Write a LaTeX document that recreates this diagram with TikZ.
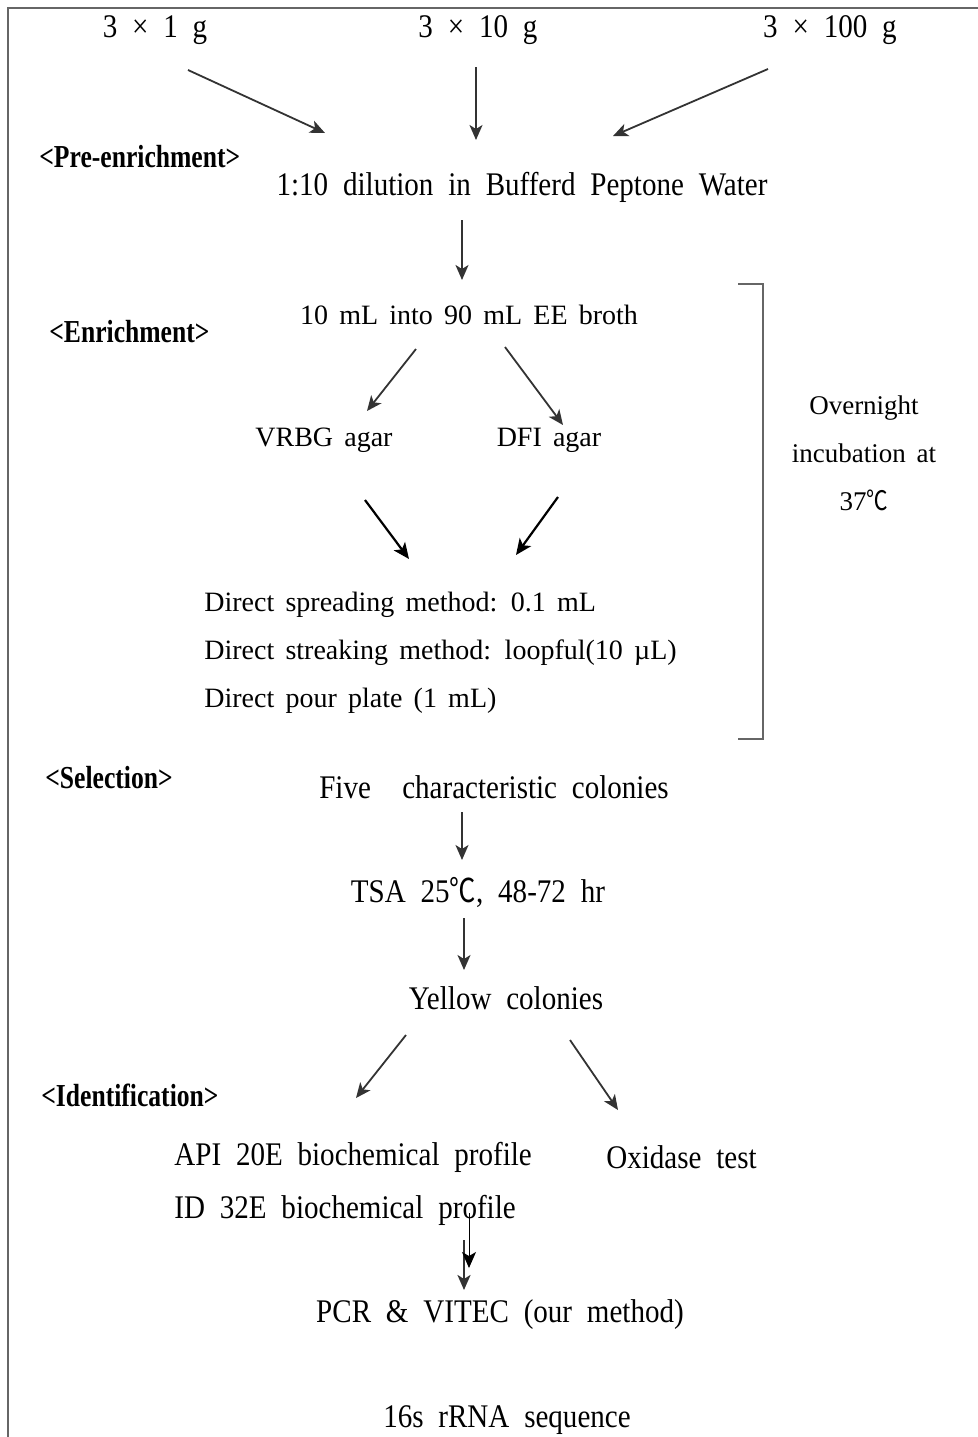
\documentclass[tikz,border=0pt]{standalone}
\usepackage{fontspec}
\setmainfont[FakeStretch=0.88]{Liberation Serif}
\newfontfamily\plainserif{Liberation Serif}
\newfontfamily\cjk{Noto Sans CJK SC}
\usetikzlibrary{arrows.meta}
\newcommand{\degc}{{\cjk\addfontfeature{FakeStretch=0.8}℃}}
\newcommand{\widesp}{\spaceskip=0.45em plus 0.1em\relax}
\newcommand{\midsp}{\spaceskip=0.4em plus 0.1em\relax}

\begin{document}
\begin{tikzpicture}[x=0.5pt,y=-0.5pt,
   lbl/.style={inner sep=0pt,font=\fontsize{16.5}{24}\selectfont\widesp},
   lbls/.style={inner sep=0pt,font=\plainserif\fontsize{14}{24}\selectfont\midsp},
   note/.style={inner sep=0pt,align=center,font=\plainserif\fontsize{13.5}{24}\selectfont\midsp},
   tag/.style={inner sep=0pt,font=\fontsize{16}{18}\selectfont\bfseries\addfontfeature{FakeStretch=0.8}},
   arr/.style={draw=black!80,line width=0.9pt,-{Stealth[length=7.5pt,width=6.5pt,inset=2pt]}},
   darr/.style={draw=black,line width=1.1pt,-{Stealth[length=8pt,width=7pt,inset=2pt]}},
   frame/.style={draw=black!60,line width=0.6pt}]
   \useasboundingbox (0,0) rectangle (978,1437);
   \draw[frame] (978,8) -- (8,8) -- (8,1437);
   % samples
   \node[lbl] (w1) at (155,30) {3 × 1 g};
   \node[lbl] (w2) at (478,30) {3 × 10 g};
   \node[lbl] (w3) at (830,30) {3 × 100 g};
   % stage labels
   \node[tag,anchor=west] (pre) at (39,157) {<Pre-enrichment>};
   \node[tag,anchor=west] (enr) at (49,332) {<Enrichment>};
   \node[tag,anchor=west] (sel) at (45,778) {<Selection>};
   \node[tag,anchor=west] (idn) at (41,1095) {<Identification>};
   % steps
   \node[lbl] (dil) at (522,187) {1:10 dilution in Bufferd Peptone Water};
   \node[lbls] (ee) at (469,315) {10 mL into 90 mL EE broth};
   \node[lbls] (vrbg) at (324,440) {VRBG agar};
   \node[lbls] (dfi) at (549,440) {DFI agar};
   \node[lbls,anchor=west] (m1) at (204,605) {Direct spreading method: 0.1 mL};
   \node[lbls,anchor=west] (m2) at (204,653) {Direct streaking method: loopful(10 µL)};
   \node[lbls,anchor=west] (m3) at (204,701) {Direct pour plate (1 mL)};
   \node[note] (inc) at (864,453) {Overnight\\incubation at\\37\degc};
   \node[lbl] (five) at (494,787) {Five\hspace{0.5em} characteristic colonies};
   \node[lbl] (tsa) at (478,892) {TSA 25\degc, 48-72 hr};
   \node[lbl] (yel) at (506,998) {Yellow colonies};
   \node[lbl,anchor=west] (api) at (174,1157) {API 20E biochemical profile};
   \node[lbl,anchor=west] (oxi) at (606,1157) {Oxidase test};
   \node[lbl,anchor=west] (id32) at (174,1210) {ID 32E biochemical profile};
   \node[lbl] (pcr) at (500,1315) {PCR \& VITEC (our method)};
   \node[lbl] (rrna) at (507,1420) {16s rRNA sequence};
   % bracket
   \coordinate (bt) at (738,284);
   \coordinate (bb) at (738,739);
   \draw[frame] (bt) -- ++(25,0) |- (bb);
   % arrow ends
   \coordinate (a1) at (188,70);   \coordinate (b1) at (325,133);
   \coordinate (a2) at (476,67);   \coordinate (b2) at (476,140);
   \coordinate (a3) at (768,69);   \coordinate (b3) at (613,136);
   \coordinate (a4) at (462,220);  \coordinate (b4) at (462,280);
   \coordinate (a5) at (416,349);  \coordinate (b5) at (367,411);
   \coordinate (a6) at (505,347);  \coordinate (b6) at (563,425);
   \coordinate (a7) at (365,500);  \coordinate (b7) at (409,559);
   \coordinate (a8) at (558,497);  \coordinate (b8) at (516,555);
   \coordinate (a9) at (462,812);  \coordinate (b9) at (462,860);
   \coordinate (a10) at (464,918); \coordinate (b10) at (464,970);
   \coordinate (a11) at (406,1035); \coordinate (b11) at (356,1098);
   \coordinate (a12) at (570,1040); \coordinate (b12) at (618,1110);
   \coordinate (a13) at (469,1213); \coordinate (b13) at (469,1268);
   \coordinate (a14) at (464,1240); \coordinate (b14) at (464,1290);
   \draw[arr] (a1) -- (b1);
   \draw[arr] (a2) -- (b2);
   \draw[arr] (a3) -- (b3);
   \draw[arr] (a4) -- (b4);
   \draw[arr] (a5) -- (b5);
   \draw[arr] (a6) -- (b6);
   \draw[darr] (a7) -- (b7);
   \draw[darr] (a8) -- (b8);
   \draw[arr] (a9) -- (b9);
   \draw[arr] (a10) -- (b10);
   \draw[arr] (a11) -- (b11);
   \draw[arr] (a12) -- (b12);
   \draw[arr,line width=1.3pt] (a14) -- (b14);
   \draw[draw=black,line width=0.5pt,-{Stealth[length=8pt,width=7pt,inset=2pt]}] (a13) -- (b13);
\end{tikzpicture}
\end{document}
